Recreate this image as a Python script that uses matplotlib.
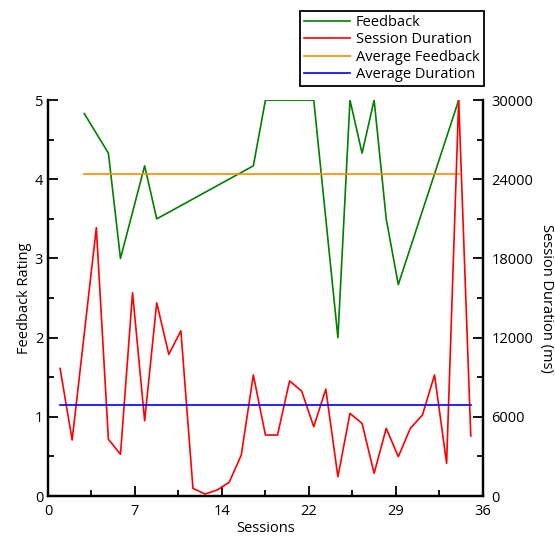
import numpy as np
import matplotlib
matplotlib.use("Agg")
import matplotlib.pyplot as plt
from matplotlib.ticker import FixedLocator, FuncFormatter

plt.rcParams['font.family'] = ['Open Sans', 'DejaVu Sans']
plt.rcParams['font.size'] = 10.5

# feedback ratings per session (left axis)
fb_sessions = [3, 5, 6, 8, 9, 17, 18, 22, 24, 25, 26, 27, 28, 29, 34]
fb_values = [4.83, 4.33, 3.0, 4.17, 3.5, 4.17, 5.0, 5.0, 2.0, 5.0, 4.33, 5.0, 3.5, 2.67, 5.0]
avg_feedback = 4.07

# session durations in ms (right axis)
dur_sessions = [1, 2, 4, 5, 6, 7, 8, 9, 10, 11, 12, 13, 14, 15, 16, 17, 18, 19,
                20, 21, 22, 23, 24, 25, 26, 27, 28, 29, 30, 31, 32, 33, 34, 35]
dur_values = [9670, 4240, 20330, 4300, 3160, 15400, 5700, 14640, 10730, 12520,
              580, 150, 450, 1040, 3100, 9170, 4620, 4620, 8720, 7950, 5250,
              8100, 1460, 6260, 5500, 1720, 5130, 2980, 5130, 6140, 9170, 2480,
              30000, 4550]
avg_duration = 6900

fig = plt.figure(figsize=(5.55, 5.44), dpi=100)
ax = fig.add_axes([0.0865, 0.0882, 0.7835, 0.7278])
ax2 = ax.twinx()

l1, = ax.plot(fb_sessions, fb_values, color='#008000', lw=1.2, label='Feedback')
l3, = ax.plot([fb_sessions[0], fb_sessions[-1]], [avg_feedback, avg_feedback],
              color='#ff8c00', lw=1.2, label='Average Feedback')
l2, = ax2.plot(dur_sessions, dur_values, color='#ff0000', lw=1.2, label='Session Duration')
l4, = ax2.plot([dur_sessions[0], dur_sessions[-1]], [avg_duration, avg_duration],
               color='#0000ff', lw=1.2, label='Average Duration')

ax.set_xlim(0, 36)
ax.set_ylim(0, 5)
ax2.set_ylim(0, 30000)

ax.xaxis.set_major_locator(FixedLocator(np.linspace(0, 36, 6)))
ax.xaxis.set_minor_locator(FixedLocator(np.linspace(3.6, 32.4, 5)))
ax.xaxis.set_major_formatter(FuncFormatter(lambda v, p: str(int(round(v)))))
ax.yaxis.set_major_locator(FixedLocator(range(0, 6)))
ax.yaxis.set_minor_locator(FixedLocator(np.arange(0.5, 5, 1.0)))
ax2.yaxis.set_major_locator(FixedLocator(range(0, 30001, 6000)))
ax2.yaxis.set_minor_locator(FixedLocator(range(3000, 30000, 6000)))

for a in (ax, ax2):
    a.tick_params(which='major', direction='in', length=7, width=1.3)
    a.tick_params(which='minor', direction='in', length=4, width=1.3)
    for s in a.spines.values():
        s.set_linewidth(1.6)
    a.spines['top'].set_visible(False)
ax.tick_params(axis='y', which='both', right=False)
ax.tick_params(axis='x', pad=6)
ax2.tick_params(axis='y', pad=6)

ax.set_xlabel('Sessions', labelpad=1)
ax.set_ylabel('Feedback Rating', labelpad=2)
ax2.set_ylabel('Session Duration (ms)', rotation=270, labelpad=15)

leg = fig.legend(handles=[l1, l2, l3, l4], loc='upper right',
                 bbox_to_anchor=(0.872, 0.98), bbox_transform=fig.transFigure,
                 borderaxespad=0, fancybox=False, framealpha=1,
                 edgecolor='black', handlelength=3.15, labelspacing=0.15,
                 borderpad=0.3, handletextpad=0.4)
leg.get_frame().set_linewidth(1.3)

fig.savefig('out.png', dpi=100)
